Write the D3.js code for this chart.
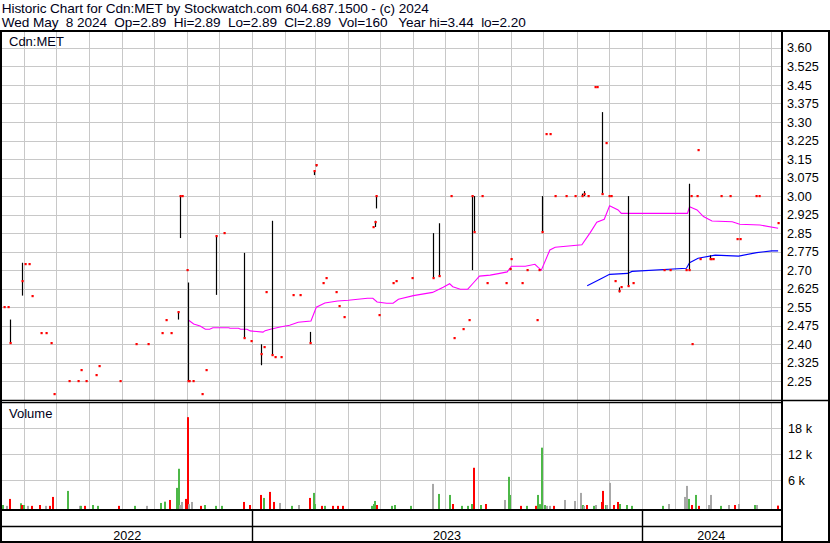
<!DOCTYPE html>
<html><head><meta charset="utf-8">
<script src="https://cdn.jsdelivr.net/npm/d3@7"></script>
<style>
html,body{margin:0;padding:0;background:#fff;}
svg{display:block;font-family:Arial,"Liberation Sans",sans-serif;}
</style>
</head><body>
<svg id="c" width="830" height="543"></svg>
<script>
const titleLine1 = "Historic Chart for Cdn:MET by Stockwatch.com 604.687.1500 - (c) 2024";
const titleLine2 = "Wed May  8 2024  Op=2.89  Hi=2.89  Lo=2.89  Cl=2.89  Vol=160   Year hi=3.44  lo=2.20";
const symbolLabel = "Cdn:MET";
const volumeLabel = "Volume";

const priceTicks = [3.60,3.525,3.45,3.375,3.30,3.225,3.15,3.075,3.00,2.925,2.85,2.775,2.70,2.625,2.55,2.475,2.40,2.325,2.25];
const priceTickLabels = ["3.60","3.525","3.45","3.375","3.30","3.225","3.15","3.075","3.00","2.925","2.85","2.775","2.70","2.625","2.55","2.475","2.40","2.325","2.25"];
const volTicks = [6000,12000,18000];
const volTickLabels = ["6 k","12 k","18 k"];
const yearLabels = ["2022","2023","2024"];
const yearStarts = ["2022-05-11","2023-01-01","2024-01-01","2024-05-11"];

// daily price records (high / low / close)
const priceDates = ["2022-05-13","2022-05-17","2022-05-19","2022-05-30","2022-06-02","2022-06-06","2022-06-08","2022-06-17","2022-06-22","2022-06-26",
"2022-06-29","2022-07-13","2022-07-22","2022-07-24","2022-07-29","2022-08-07","2022-08-10","2022-08-30","2022-09-14","2022-09-25",
"2022-10-08","2022-10-12","2022-10-17","2022-10-23","2022-10-25","2022-10-27","2022-11-01","2022-11-02","2022-11-03","2022-11-06",
"2022-11-15","2022-11-19","2022-11-28","2022-12-05","2022-12-24","2022-12-31","2023-01-09","2023-01-12","2023-01-14","2023-01-19",
"2023-01-22","2023-01-28","2023-02-08","2023-02-15","2023-02-24","2023-02-28","2023-03-02","2023-03-08","2023-03-11","2023-03-20",
"2023-03-23","2023-03-28","2023-04-24","2023-04-26","2023-04-27","2023-04-30","2023-05-13","2023-05-16","2023-05-31","2023-06-19",
"2023-06-25","2023-07-06","2023-07-09","2023-07-18","2023-07-23","2023-07-26","2023-07-28","2023-08-04","2023-08-09","2023-08-27",
"2023-08-31","2023-09-01","2023-09-11","2023-09-16","2023-09-25","2023-09-27","2023-09-30","2023-10-03","2023-10-07","2023-10-12",
"2023-10-22","2023-10-31","2023-11-06","2023-11-08","2023-11-12","2023-11-18","2023-11-20","2023-11-25","2023-11-29","2023-12-01",
"2023-12-03","2023-12-07","2023-12-11","2023-12-13","2023-12-19","2023-12-24","2024-01-22","2024-01-28","2024-02-12","2024-02-14",
"2024-02-16","2024-02-17","2024-02-22","2024-02-23","2024-02-25","2024-03-05","2024-03-06","2024-03-08","2024-03-15","2024-03-24",
"2024-03-30","2024-04-02","2024-04-17","2024-04-20","2024-05-08"];
const priceHighs = [2.55,2.55,2.50,2.73,2.725,2.725,2.595,2.445,2.445,2.405,
2.20,2.25,2.25,2.295,2.25,2.275,2.31,2.25,2.40,2.40,
2.445,2.50,2.445,2.53,3.00,3.00,2.70,2.65,2.25,2.25,
2.20,2.295,2.84,2.85,2.77,2.415,2.40,2.39,2.61,2.90,
2.35,2.35,2.60,2.60,2.45,3.10,3.13,2.65,2.67,2.61,
2.555,2.51,2.875,2.90,3.00,2.52,2.65,2.655,2.67,2.85,
2.89,3.00,2.425,2.46,2.50,3.00,3.00,3.00,2.65,2.65,
2.705,2.745,2.65,2.70,2.50,2.70,3.00,3.25,3.25,3.00,
3.00,3.00,3.01,3.02,3.00,3.44,3.44,3.34,3.215,3.00,
3.00,2.655,2.63,2.63,3.00,2.65,2.70,2.70,2.70,3.05,
3.00,2.40,3.00,3.185,2.745,2.76,2.745,2.745,3.00,3.00,
2.825,2.825,3.00,3.00,2.89];
const priceLows = [2.55,2.55,2.405,2.597,2.725,2.725,2.595,2.445,2.445,2.405,
2.20,2.25,2.25,2.295,2.25,2.275,2.31,2.25,2.40,2.40,
2.445,2.50,2.445,2.50,2.83,3.00,2.70,2.25,2.25,2.25,
2.20,2.295,2.60,2.85,2.425,2.415,2.315,2.39,2.61,2.355,
2.35,2.35,2.60,2.60,2.405,3.085,3.12,2.65,2.67,2.61,
2.555,2.51,2.875,2.875,2.95,2.52,2.65,2.655,2.67,2.67,
2.675,3.00,2.425,2.46,2.50,2.70,2.855,3.00,2.65,2.65,
2.705,2.745,2.65,2.70,2.50,2.70,2.855,3.25,3.25,3.00,
3.00,3.00,3.00,3.00,3.00,3.44,3.44,3.005,3.215,3.00,
3.00,2.655,2.61,2.63,2.635,2.65,2.70,2.70,2.70,2.70,
3.00,2.40,3.00,3.185,2.745,2.745,2.745,2.745,3.00,3.00,
2.825,2.825,3.00,3.00,2.89];
const priceCloses = [2.55,2.55,2.405,2.657,2.725,2.725,2.595,2.445,2.445,2.405,
2.20,2.25,2.25,2.295,2.25,2.275,2.31,2.25,2.40,2.40,
2.445,2.50,2.445,2.53,3.00,3.00,2.70,2.25,2.25,2.25,
2.20,2.295,2.84,2.85,2.425,2.415,2.36,2.39,2.61,2.355,
2.35,2.35,2.60,2.60,2.405,3.10,3.125,2.65,2.67,2.61,
2.555,2.51,2.875,2.895,3.00,2.52,2.65,2.655,2.67,2.67,
2.675,3.00,2.425,2.46,2.50,3.00,2.855,3.00,2.65,2.65,
2.705,2.745,2.65,2.70,2.50,2.70,2.855,3.25,3.25,3.00,
3.00,3.00,3.00,3.01,3.00,3.44,3.44,3.01,3.215,3.00,
3.00,2.655,2.615,2.63,2.635,2.65,2.70,2.70,2.70,2.70,
3.00,2.40,3.00,3.185,2.745,2.745,2.745,2.745,3.00,3.00,
2.825,2.825,3.00,3.00,2.89];

// short moving average (magenta)
const maShortDates = ["2022-11-02","2022-11-07","2022-11-13","2022-11-18","2022-11-22","2022-11-25","2022-12-10","2022-12-11","2022-12-19","2022-12-21",
"2022-12-27","2022-12-30","2023-01-11","2023-01-13","2023-01-18","2023-01-27","2023-02-05","2023-02-13","2023-02-25","2023-03-02",
"2023-03-10","2023-03-22","2023-04-01","2023-04-19","2023-04-24","2023-04-28","2023-05-07","2023-05-13","2023-05-18","2023-06-01",
"2023-06-19","2023-06-29","2023-07-05","2023-07-08","2023-07-15","2023-07-22","2023-07-27","2023-08-02","2023-08-12","2023-08-21",
"2023-08-28","2023-09-01","2023-09-14","2023-09-23","2023-09-26","2023-09-29","2023-10-07","2023-10-12","2023-11-06","2023-11-14",
"2023-11-20","2023-11-27","2023-12-02","2023-12-10","2023-12-13","2024-02-13","2024-02-15","2024-02-22","2024-02-28","2024-03-07",
"2024-03-26","2024-04-02","2024-04-21","2024-05-08"];
const maShortValues = [2.498,2.482,2.474,2.461,2.461,2.467,2.467,2.465,2.465,2.461,
2.461,2.454,2.449,2.455,2.461,2.470,2.477,2.489,2.494,2.550,
2.567,2.575,2.578,2.586,2.586,2.571,2.566,2.566,2.582,2.597,
2.610,2.631,2.645,2.633,2.623,2.623,2.647,2.676,2.680,2.687,
2.693,2.716,2.716,2.724,2.711,2.700,2.782,2.793,2.803,2.853,
2.894,2.906,2.961,2.944,2.930,2.930,2.957,2.944,2.917,2.899,
2.896,2.886,2.883,2.870];

// long moving average (blue)
const maLongDates = ["2023-11-11","2023-11-23","2023-12-02","2023-12-19","2023-12-23","2024-02-12","2024-02-15","2024-02-23","2024-03-10","2024-04-01",
"2024-04-18","2024-05-02","2024-05-08"];
const maLongValues = [2.637,2.663,2.683,2.687,2.695,2.708,2.730,2.748,2.761,2.757,
2.771,2.778,2.778];

// volume bars: u = up (green), d = down (red), n = unchanged (grey)
const volDates = ["2022-05-12","2022-05-16","2022-05-19","2022-05-29","2022-05-30","2022-06-01","2022-06-05","2022-06-08","2022-06-16","2022-06-22",
"2022-06-25","2022-06-28","2022-07-12","2022-07-23","2022-07-24","2022-07-28","2022-08-05","2022-08-09","2022-08-29","2022-09-13",
"2022-09-24","2022-10-07","2022-10-11","2022-10-16","2022-10-22","2022-10-24","2022-10-25","2022-10-27","2022-10-31","2022-11-02",
"2022-11-03","2022-11-05","2022-11-14","2022-11-18","2022-11-28","2022-12-04","2022-12-24","2022-12-30","2023-01-09","2023-01-12",
"2023-01-18","2023-01-21","2023-01-27","2023-02-07","2023-02-14","2023-02-24","2023-02-28","2023-03-01","2023-03-07","2023-03-10",
"2023-03-18","2023-03-22","2023-03-27","2023-04-23","2023-04-25","2023-04-26","2023-04-28","2023-05-12","2023-05-15","2023-05-30",
"2023-06-19","2023-06-25","2023-07-05","2023-07-08","2023-07-17","2023-07-22","2023-07-26","2023-07-28","2023-08-03","2023-08-08",
"2023-08-26","2023-08-30","2023-08-31","2023-09-10","2023-09-16","2023-09-24","2023-09-26","2023-09-28","2023-09-30","2023-10-02",
"2023-10-04","2023-10-07","2023-10-11","2023-10-21","2023-10-31","2023-11-05","2023-11-07","2023-11-08","2023-11-11","2023-11-17",
"2023-11-19","2023-11-25","2023-11-26","2023-11-29","2023-11-30","2023-12-02","2023-12-06","2023-12-10","2023-12-12","2023-12-18",
"2023-12-23","2024-01-21","2024-01-27","2024-02-11","2024-02-13","2024-02-14","2024-02-17","2024-02-21","2024-02-24","2024-03-04",
"2024-03-06","2024-03-15","2024-03-23","2024-03-29","2024-04-01","2024-04-16","2024-04-18","2024-05-08"];
const volValues = [300,100,1700,700,300,300,100,100,300,100,
100,2160,3550,100,100,100,300,100,100,100,
100,770,1070,1460,4250,8660,300,1000,1700,20570,
500,1000,100,300,100,100,1000,300,2620,1930,
3320,1000,770,100,300,1930,3090,530,100,100,
100,100,100,100,530,1230,300,100,300,100,
5170,2850,2620,530,100,100,530,8890,300,530,
1460,6800,2620,100,100,100,2620,500,13530,300,
100,100,100,1460,1230,3090,300,100,300,100,
300,1000,3550,300,300,5400,300,1000,530,300,
100,100,530,2160,4710,1700,300,2620,100,300,
2620,100,300,300,530,300,300,160];
const volDirs = ["u","n","d","u","d","u","n","d","d","n",
"d","d","u","n","u","d","u","u","d","u",
"n","u","u","d","u","u","n","n","d","d",
"n","n","d","u","u","u","d","d","d","u",
"d","d","n","u","n","d","u","u","d","u",
"d","d","d","u","u","u","d","u","u","u",
"n","u","u","d","u","u","u","d","u","d",
"n","u","u","d","u","d","u","u","u","u",
"n","n","d","n","n","n","u","n","d","u",
"n","d","d","u","n","n","d","d","u","u",
"u","u","n","n","n","u","d","u","d","n",
"n","u","n","d","n","u","n","d"];

// ---------------------------------------------------------------
const parse = d3.timeParse("%Y-%m-%d");
const svg = d3.select("#c");
const X0 = 2, X1 = 781, PT = 32, PB = 400, VT = 403, VB = 509;

const x = d3.scaleTime().domain([parse(yearStarts[0]), parse(yearStarts[3])]).range([1.7, 781.3]);
const y = d3.scaleLinear().domain([2.25, 3.60]).range([381.3, 47.9]);
const yv = d3.scaleLinear().domain([0, 18000]).range([506.3, 428.3]);
const crisp = v => Math.round(v) + 0.5;
const gridColor = "#c8c8c8";

// clip paths
const defs = svg.append("defs");
defs.append("clipPath").attr("id","cp").append("rect").attr("x",X0).attr("y",PT).attr("width",X1-X0).attr("height",PB-PT);
defs.append("clipPath").attr("id","cv").append("rect").attr("x",X0).attr("y",VT).attr("width",X1-X0).attr("height",VB-VT);

const months = x.ticks(d3.timeMonth.every(1));

// price grid
const gp = svg.append("g");
gp.selectAll("line.h").data(priceTicks).join("line")
  .attr("x1",X0).attr("x2",X1).attr("y1",d=>crisp(y(d))).attr("y2",d=>crisp(y(d)))
  .attr("stroke",gridColor).attr("stroke-width",1);
gp.selectAll("line.v").data(months).join("line")
  .attr("x1",d=>crisp(x(d))).attr("x2",d=>crisp(x(d))).attr("y1",PT).attr("y2",PB)
  .attr("stroke",gridColor).attr("stroke-width",1);

// volume grid
const gv = svg.append("g");
gv.selectAll("line.h").data(volTicks).join("line")
  .attr("x1",X0).attr("x2",X1).attr("y1",d=>crisp(yv(d))).attr("y2",d=>crisp(yv(d)))
  .attr("stroke",gridColor).attr("stroke-width",1);
gv.selectAll("line.v").data(months).join("line")
  .attr("x1",d=>crisp(x(d))).attr("x2",d=>crisp(x(d))).attr("y1",VT).attr("y2",VB)
  .attr("stroke",gridColor).attr("stroke-width",1);

// moving averages
const plot = svg.append("g").attr("clip-path","url(#cp)");
const lineGen = d3.line().x(d=>x(d[0])).y(d=>y(d[1]));
plot.append("path").datum(maShortDates.map((d,i)=>[parse(d),maShortValues[i]]))
  .attr("d",lineGen).attr("fill","none").attr("stroke","#ff00ff").attr("stroke-width",1.1);
plot.append("path").datum(maLongDates.map((d,i)=>[parse(d),maLongValues[i]]))
  .attr("d",lineGen).attr("fill","none").attr("stroke","#0000ff").attr("stroke-width",1.1);

// price records
const recs = priceDates.map((d,i)=>({date:parse(d),h:priceHighs[i],l:priceLows[i],c:priceCloses[i]}));
plot.selectAll("line.bar").data(recs.filter(r=>r.h>r.l)).join("line")
  .attr("x1",d=>Math.round(x(d.date))+0.5).attr("x2",d=>Math.round(x(d.date))+0.5)
  .attr("y1",d=>y(d.h)).attr("y2",d=>y(d.l))
  .attr("stroke","#000").attr("stroke-width",1.2);
plot.selectAll("rect.dot").data(recs).join("rect")
  .attr("x",d=>Math.round(x(d.date))-0.5).attr("y",d=>Math.round(y(d.c))-1)
  .attr("width",2.2).attr("height",2.2).attr("fill","#ff0000");

// volume bars
const volColor = {u:"#4db848", d:"#ff0000", n:"#a8a8a8"};
svg.append("g").attr("clip-path","url(#cv)").selectAll("rect").data(volDates.map((d,i)=>({date:parse(d),v:volValues[i],k:volDirs[i]})))
  .join("rect")
  .attr("x",d=>Math.round(x(d.date))-1).attr("width",2)
  .attr("y",d=>Math.min(yv(d.v),507.5)).attr("height",d=>VB-Math.min(yv(d.v),507.5))
  .attr("fill",d=>volColor[d.k]);

// right axes
const ax = svg.append("g").attr("transform","translate(782,0)")
  .call(d3.axisRight(y).tickValues(priceTicks).tickFormat((d,i)=>priceTickLabels[i]).tickSize(0).tickPadding(5));
ax.select(".domain").remove();
ax.selectAll("text").attr("font-size","12.7px").attr("fill","#000").attr("font-family","Arial, 'Liberation Sans', sans-serif");
const axv = svg.append("g").attr("transform","translate(782,0)")
  .call(d3.axisRight(yv).tickValues(volTicks).tickFormat((d,i)=>volTickLabels[i]).tickSize(0).tickPadding(6));
axv.select(".domain").remove();
axv.selectAll("text").attr("font-size","12.7px").attr("fill","#000").attr("font-family","Arial, 'Liberation Sans', sans-serif");

// frame lines
const frame = svg.append("g").attr("stroke","#000").attr("fill","none");
const ln = (x1,y1,x2,y2,w)=>frame.append("line").attr("x1",x1).attr("y1",y1).attr("x2",x2).attr("y2",y2).attr("stroke-width",w);
ln(0,31,830,31,2);
ln(1,30,1,543,2);
ln(829,30,829,543,2);
ln(782,30,782,543,2);
ln(0,400.5,829,400.5,1.3);
ln(0,402.7,782,402.7,1.3);
ln(0,510,782,510,2);
ln(0,526.5,782,526.5,1.5);
ln(0,542,830,542,2);
// year dividers
const ys = yearStarts.map(parse);
frame.selectAll("line.yd").data(ys.slice(1,3)).join("line")
  .attr("x1",d=>crisp(x(d))).attr("x2",d=>crisp(x(d))).attr("y1",510).attr("y2",542).attr("stroke-width",1.4);
svg.append("g").selectAll("text").data(yearLabels).join("text")
  .attr("x",(d,i)=>(Math.max(X0,x(ys[i]))+Math.min(X1,x(ys[i+1])))/2)
  .attr("y",539.5).attr("text-anchor","middle").attr("font-size","12.6px").attr("fill","#000")
  .text(d=>d);

// header + labels
svg.append("text").attr("x",1.7).attr("y",12.8).attr("font-size","13.6px").attr("fill","#000018")
  .attr("textLength",427).attr("lengthAdjust","spacing")
  .style("white-space","pre").text(titleLine1);
svg.append("text").attr("x",1.7).attr("y",27.3).attr("font-size","13.6px").attr("fill","#000018")
  .attr("textLength",524).attr("lengthAdjust","spacing")
  .style("white-space","pre").text(titleLine2);
svg.append("text").attr("x",9).attr("y",45.7).attr("font-size","13px").attr("fill","#000018").text(symbolLabel);
svg.append("text").attr("x",9).attr("y",418.3).attr("font-size","13px").attr("fill","#000018").text(volumeLabel);
</script>
</body></html>
